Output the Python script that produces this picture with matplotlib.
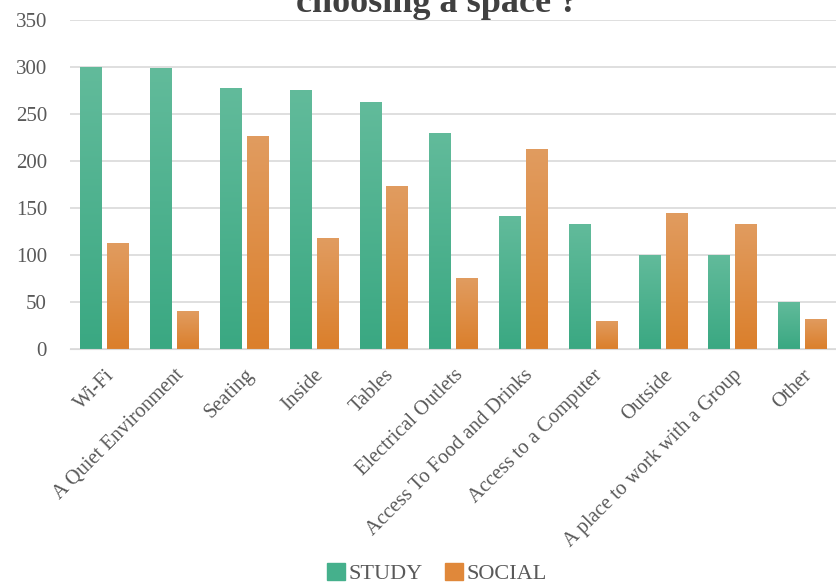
import numpy as np
import matplotlib.pyplot as plt
from matplotlib.patches import Patch
from matplotlib.colors import LinearSegmentedColormap

# What matters when choosing a space: study vs social use
categories = ['Wi-Fi', 'A Quiet Environment', 'Seating', 'Inside', 'Tables',
              'Electrical Outlets', 'Access To Food and Drinks', 'Access to a Computer',
              'Outside', 'A place to work with a Group', 'Other']
study = [300, 299, 278, 276, 263, 230, 142, 133, 100, 100, 50]
social = [113, 40, 227, 118, 173, 75, 213, 30, 145, 133, 32]
yticks = [0, 50, 100, 150, 200, 250, 300, 350]

green = '#45b08c'
orange = '#e0883a'
grey = '#595959'

plt.rcParams['font.family'] = ['Liberation Serif', 'DejaVu Serif']

fig = plt.figure(figsize=(8.37, 5.84), dpi=100)
ax = fig.add_axes([0.0836, 0.4024, 0.917, 0.5634])

x = np.arange(len(categories))
w = 0.314
off = 0.193
b1 = ax.bar(x - off, study, w, color=green, zorder=3)
b2 = ax.bar(x + off, social, w, color=orange, zorder=3)

# soft vertical gradient on every bar, lighter at the top
grad = np.linspace(0, 1, 256).reshape(-1, 1)
cm_g = LinearSegmentedColormap.from_list('g', ['#3aa882', '#62bb9b'])
cm_o = LinearSegmentedColormap.from_list('o', ['#db7f2b', '#e19c60'])
for bars, cm in [(b1, cm_g), (b2, cm_o)]:
    for b in bars:
        x0, h = b.get_x(), b.get_height()
        im = ax.imshow(grad, cmap=cm, origin='lower', aspect='auto', zorder=4,
                       extent=[x0, x0 + b.get_width(), 0, h])
        im.set_clip_path(b)

ax.set_xlim(-0.5, len(categories) - 0.5)
ax.set_ylim(0, 350)
ax.set_yticks(yticks)
ax.yaxis.grid(True, color='#d9d9d9', linewidth=1.2, zorder=0)
ax.tick_params(axis='both', length=0, colors=grey)
ax.tick_params(axis='y', pad=16.5, labelsize=15)
ax.tick_params(axis='x', pad=12)
ax.set_xticks(x)
ax.set_xticklabels(categories, rotation=45, ha='right', rotation_mode='anchor', fontsize=14.8)

for s in ['top', 'right', 'left']:
    ax.spines[s].set_visible(False)
ax.spines['bottom'].set_color('#d9d9d9')
ax.spines['bottom'].set_zorder(5)

fig.text(0.522, 0.9795, 'choosing a space ?', ha='center', va='baseline',
         fontsize=26, fontweight='bold', color='#404040')

handles = [Patch(color=green, label='STUDY'), Patch(color=orange, label='SOCIAL')]
fig.legend(handles=handles, loc='center', bbox_to_anchor=(0.522, 0.018), ncol=2,
           frameon=False, fontsize=16, labelcolor=grey, handlelength=0.8,
           handleheight=0.8, handletextpad=0.15, columnspacing=1.0)

fig.savefig('out.png', dpi=100)
